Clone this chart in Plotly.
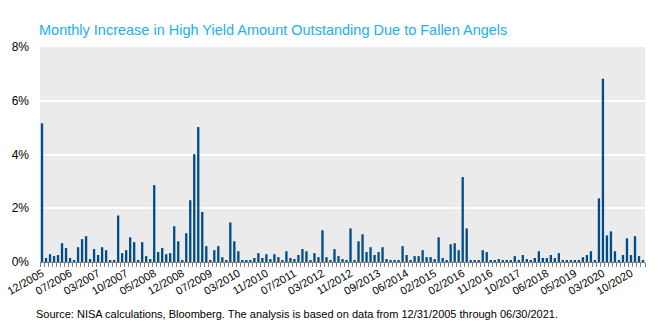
import plotly.graph_objects as go

# Months with fallen-angel additions (category axis, one bar per month)
months = [
    "12/2005", "01/2006", "02/2006", "03/2006", "04/2006", "05/2006", "06/2006", "07/2006",
    "08/2006", "09/2006", "10/2006", "12/2006", "01/2007", "02/2007", "03/2007",
    "04/2007", "05/2007", "06/2007", "07/2007", "08/2007", "09/2007", "10/2007",
    "11/2007", "12/2007", "01/2008", "02/2008", "03/2008", "04/2008", "05/2008",
    "06/2008", "07/2008", "08/2008", "09/2008", "10/2008", "11/2008", "12/2008",
    "01/2009", "02/2009", "03/2009", "04/2009", "05/2009", "06/2009", "07/2009",
    "08/2009", "09/2009", "10/2009", "11/2009", "12/2009", "02/2010", "03/2010",
    "04/2010", "05/2010", "06/2010", "07/2010", "08/2010", "09/2010", "11/2010",
    "12/2010", "01/2011", "02/2011", "03/2011", "05/2011", "06/2011", "07/2011",
    "08/2011", "09/2011", "10/2011", "11/2011", "01/2012", "02/2012", "03/2012",
    "04/2012", "05/2012", "06/2012", "07/2012", "09/2012", "10/2012", "11/2012",
    "12/2012", "01/2013", "03/2013", "04/2013", "06/2013", "07/2013", "09/2013",
    "10/2013", "11/2013", "01/2014", "02/2014", "03/2014", "05/2014", "06/2014",
    "07/2014", "08/2014", "09/2014", "10/2014", "12/2014", "01/2015", "02/2015",
    "03/2015", "05/2015", "07/2015", "09/2015", "11/2015", "12/2015", "02/2016",
    "03/2016", "04/2016", "05/2016", "07/2016", "08/2016", "10/2016", "11/2016",
    "12/2016", "02/2017", "03/2017", "05/2017", "07/2017", "08/2017", "10/2017",
    "11/2017", "12/2017", "01/2018", "02/2018", "04/2018", "05/2018", "06/2018",
    "07/2018", "09/2018", "10/2018", "12/2018", "01/2019", "03/2019", "05/2019",
    "06/2019", "08/2019", "09/2019", "11/2019", "01/2020", "02/2020", "03/2020",
    "04/2020", "05/2020", "06/2020", "07/2020", "08/2020", "09/2020", "10/2020",
    "12/2020", "02/2021", "05/2021",
]

# Monthly increase in HY amount outstanding from fallen angels (%)
increase_pct = [
    5.16, 0.15, 0.29, 0.22, 0.26, 0.70, 0.52, 0.15, 0.07, 0.55, 0.85, 0.96, 0.11,
    0.48, 0.26, 0.55, 0.44, 0.07, 0.04, 1.73, 0.33, 0.44, 0.92, 0.74, 0.04, 0.74,
    0.22, 0.11, 2.86, 0.37, 0.52, 0.29, 0.33, 1.33, 0.77, 0.07, 1.07, 2.30, 4.01,
    5.02, 1.86, 0.59, 0.07, 0.44, 0.59, 0.18, 0.07, 1.47, 0.77, 0.40,
    0.04, 0.04, 0.07, 0.15, 0.33, 0.15, 0.29, 0.11, 0.29, 0.18, 0.04, 0.40, 0.15,
    0.11, 0.26, 0.48, 0.40, 0.04, 0.33, 0.18, 1.18, 0.18, 0.04, 0.48, 0.22, 0.11,
    0.04, 1.25, 0.07, 0.77, 1.03, 0.37, 0.55, 0.26, 0.37, 0.55, 0.11, 0.04, 0.07,
    0.04, 0.59, 0.26, 0.04, 0.22, 0.22, 0.44, 0.18, 0.18, 0.11, 0.92,
    0.15, 0.07, 0.66, 0.70, 0.44, 3.16, 1.25, 0.04, 0.07, 0.07, 0.44, 0.37, 0.07,
    0.04, 0.11, 0.07, 0.04, 0.07, 0.22, 0.04, 0.26, 0.11, 0.04, 0.15, 0.40,
    0.15, 0.15, 0.26, 0.15, 0.33, 0.07, 0.07, 0.04, 0.04, 0.07, 0.18, 0.26, 0.40,
    0.07, 2.37, 6.82, 0.99, 1.14, 0.40, 0.04, 0.26, 0.88, 0.26, 0.96, 0.22, 0.07,
]

# Axis labels shown on every seventh month
label_step = 7
tick_text = [m if i % label_step == 0 else "" for i, m in enumerate(months)]

y_ticks = [0, 2, 4, 6, 8]
y_tick_text = ["0%", "2%", "4%", "6%", "8%"]

title_text = "Monthly Increase in High Yield Amount Outstanding Due to Fallen Angels"
source_text = ("Source: NISA calculations, Bloomberg. The analysis is based on data "
               "from 12/31/2005 through 06/30/2021.")

fig = go.Figure(
    go.Bar(
        x=months,
        y=increase_pct,
        marker=dict(color="#004C8C", line=dict(width=0)),
        hoverinfo="x+y",
    )
)

font_family = "Liberation Sans, Arial, sans-serif"

fig.update_layout(
    width=661,
    height=328,
    margin=dict(l=40, r=16, t=47, b=66),
    paper_bgcolor="white",
    plot_bgcolor="#EBEBEB",
    bargap=0.42,
    showlegend=False,
    font=dict(family=font_family, size=11, color="#000000"),
    annotations=[
        dict(
            text=title_text, xref="paper", yref="paper", x=-0.005, y=1.0,
            yshift=27, xanchor="left", yanchor="top", showarrow=False,
            font=dict(family=font_family, size=14.5, color="#1AB0EC"),
        ),
        dict(
            text=source_text, xref="paper", yref="paper", x=-0.01, y=0,
            yshift=-44, xanchor="left", yanchor="top", showarrow=False,
            font=dict(family=font_family, size=11, color="#000000"),
        ),
    ],
)

fig.update_xaxes(
    type="category",
    tickmode="array",
    tickvals=months,
    ticktext=tick_text,
    tickson="boundaries",
    ticks="outside",
    ticklen=4,
    tickwidth=1,
    tickcolor="#808080",
    tickangle=-30,
    showline=True,
    linecolor="#808080",
    linewidth=1,
    showgrid=False,
    automargin=False,
    tickfont=dict(family=font_family, size=11, color="#000000"),
)

fig.update_yaxes(
    range=[0, 8],
    tickvals=y_ticks,
    ticktext=y_tick_text,
    showgrid=True,
    gridcolor="white",
    gridwidth=2,
    zeroline=False,
    showline=False,
    ticks="",
    automargin=False,
    ticklabelstandoff=10,
    tickfont=dict(family=font_family, size=12, color="#000000"),
)

fig.write_html("out.html")
